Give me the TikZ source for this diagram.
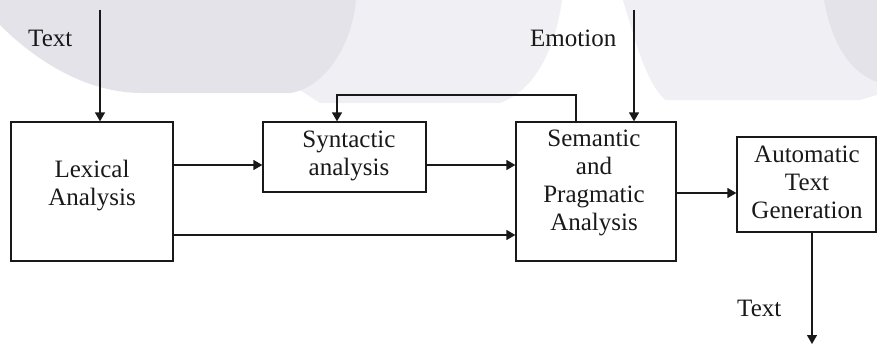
\documentclass[tikz,border=0pt]{standalone}
\usepackage{fontspec}
\setmainfont{Liberation Serif}
\usetikzlibrary{arrows.meta}

\definecolor{ink}{RGB}{25,25,25}
\definecolor{markdark}{RGB}{227,227,233}
\definecolor{marklight}{RGB}{240,240,244}

\tikzset{
  stagebox/.style={draw=ink, line width=1.3pt, rectangle, inner sep=0pt},
  stagetext/.style={inner sep=0pt, align=center, font=\fontsize{25}{28}\selectfont, text=ink},
  flowlabel/.style={inner sep=0pt, font=\fontsize{25}{28}\selectfont, text=ink},
  flow/.style={draw=ink, line width=1.3pt, -{Triangle[length=9pt,width=10pt]}},
}

\begin{document}
\begin{tikzpicture}[x=1pt, y=-1pt]
  \useasboundingbox (0,0) rectangle (877,345);
  \fill[white] (0,0) rectangle (877,345);

  % faint background watermark
  \fill[marklight] (300,0) -- (562,0) .. controls (555,50) and (535,90) .. (500,103)
        -- (320,103) -- (300,90) -- cycle;
  \fill[markdark] (0,0) -- (0,25) .. controls (30,55) and (80,92) .. (140,93)
        -- (290,93) .. controls (325,88) and (352,45) .. (356,0) -- cycle;
  \fill[marklight] (623,0) .. controls (635,40) and (645,80) .. (665,100)
        -- (860,100) -- (877,95) -- (877,0) -- cycle;
  \fill[markdark] (824,0) .. controls (830,35) and (845,70) .. (877,82) -- (877,0) -- cycle;

  % processing stages
  \node[stagebox, minimum width=162pt, minimum height=139pt] (lex) at (92,191.5) {};
  \node[stagebox, minimum width=163pt, minimum height=70pt]  (syn) at (344.5,157) {};
  \node[stagebox, minimum width=160pt, minimum height=139pt] (sem) at (596,191.5) {};
  \node[stagebox, minimum width=139pt, minimum height=95pt]  (aut) at (806.5,184.5) {};

  % stage names, placed by the baseline of their last line
  \node[stagetext, anchor=base] (lextxt) at (92,205)  {Lexical\\Analysis};
  \node[stagetext, anchor=base] (syntxt) at (349,175) {Syntactic\\analysis};
  \node[stagetext, anchor=base] (semtxt) at (594,230) {Semantic\\and\\Pragmatic\\Analysis};
  \node[stagetext, anchor=base] (auttxt) at (807,218) {Automatic\\Text\\Generation};

  % inputs and output labels
  \node[flowlabel, anchor=base west] (textin)  at (28,47)   {Text};
  \node[flowlabel, anchor=base west] (emotion) at (530,47)  {Emotion};
  \node[flowlabel, anchor=base west] (textout) at (737,316) {Text};

  % connector rails
  \coordinate (tin)  at (100,10);
  \coordinate (ein)  at (634,10);
  \coordinate (rowa) at (0,165);
  \coordinate (rowb) at (0,235);
  \coordinate (rowc) at (0,193);
  \coordinate (fbl)  at (337,95);
  \coordinate (fbr)  at (576,95);
  \coordinate (outx) at (812,0);
  \coordinate (tout) at (812,344);

  \draw[flow] (tin) -- (tin |- lex.north);
  \draw[flow] (ein) -- (ein |- sem.north);
  \draw[flow] (lex.east |- rowa) -- (syn.west |- rowa);
  \draw[flow] (syn.east |- rowa) -- (sem.west |- rowa);
  \draw[flow] (lex.east |- rowb) -- (sem.west |- rowb);
  \draw[flow] (fbr |- sem.north) -- (fbr) -- (fbl) -- (fbl |- syn.north);
  \draw[flow] (sem.east |- rowc) -- (aut.west |- rowc);
  \draw[flow] (outx |- aut.south) -- (tout);
\end{tikzpicture}
\end{document}
